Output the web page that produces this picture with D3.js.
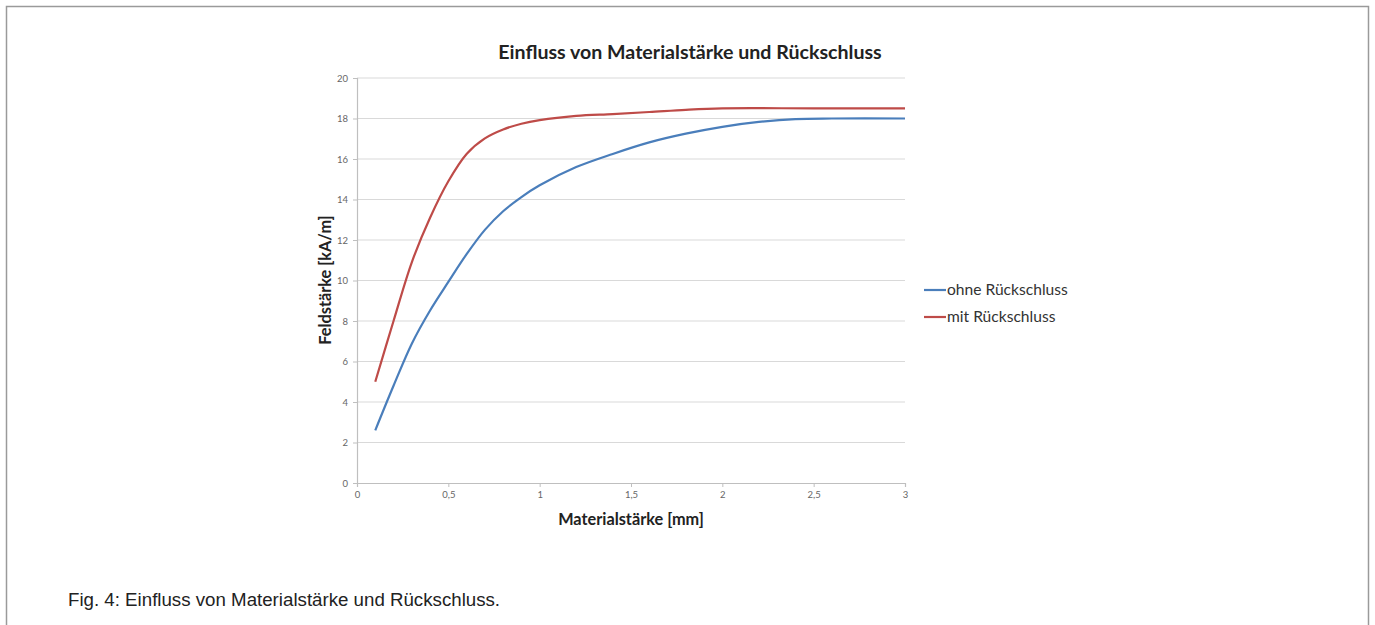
<!DOCTYPE html>
<html><head><meta charset="utf-8">
<script src="https://cdn.jsdelivr.net/npm/d3@7"></script>
<style>body{margin:0;background:#fff}svg{display:block}</style>
</head><body>
<script>
const title = "Einfluss von Materialstärke und Rückschluss";
const xLabel = "Materialstärke [mm]";
const yLabel = "Feldstärke [kA/m]";
const caption = "Fig. 4: Einfluss von Materialstärke und Rückschluss.";
const seriesNames = ["ohne Rückschluss", "mit Rückschluss"];
const seriesColors = ["#4a7ebb", "#be4b48"];
const xTicks = [0, 0.5, 1, 1.5, 2, 2.5, 3];
const yTicks = [0, 2, 4, 6, 8, 10, 12, 14, 16, 18, 20];
const ohneX = [0.1, 0.2, 0.3, 0.4, 0.5, 0.6, 0.7, 0.8, 0.9, 1.0, 1.2, 1.4, 1.6, 1.8, 2.0, 2.2, 2.4, 2.6, 3.0];
const ohneY = [2.6, 4.8, 6.88, 8.52, 9.93, 11.3, 12.5, 13.42, 14.12, 14.7, 15.6, 16.25, 16.82, 17.25, 17.59, 17.83, 17.97, 18.0, 18.0];
const mitX = [0.1, 0.2, 0.3, 0.4, 0.5, 0.6, 0.7, 0.8, 0.9, 1.0, 1.2, 1.4, 1.6, 1.8, 2.0, 2.5, 3.0];
const mitY = [5.0, 8.0, 10.9, 13.1, 14.9, 16.25, 17.02, 17.46, 17.74, 17.92, 18.13, 18.22, 18.32, 18.43, 18.5, 18.5, 18.5];

const W = 1375, H = 625;
const svg = d3.select("body").append("svg").attr("width", W).attr("height", H);
svg.append("rect").attr("x", 6.5).attr("y", 6.5).attr("width", 1362).attr("height", 700)
  .attr("fill", "none").attr("stroke", "#9a9a9a").attr("stroke-width", 1.5);

const x = d3.scaleLinear().domain([0, 3]).range([357, 905]);
const y = d3.scaleLinear().domain([0, 20]).range([483, 78]);
const tickFont = "Lato, 'Open Sans', sans-serif";

// gridlines
svg.append("g").selectAll("line").data(yTicks.filter(d => d > 0)).join("line")
  .attr("x1", x(0)).attr("x2", x(3)).attr("y1", d => y(d)).attr("y2", d => y(d))
  .attr("stroke", "#d9d9d9").attr("stroke-width", 1.2);

const yAxis = svg.append("g").attr("transform", `translate(${x(0)},0)`)
  .call(d3.axisLeft(y).tickValues(yTicks).tickSize(4).tickPadding(5).tickFormat(d3.format("d")));
const xAxis = svg.append("g").attr("transform", `translate(0,${y(0)})`)
  .call(d3.axisBottom(x).tickValues(xTicks).tickSize(4).tickPadding(4)
    .tickFormat(d => String(d).replace(".", ",")));
[yAxis, xAxis].forEach(g => {
  g.select(".domain").attr("stroke", "#bfbfbf").attr("stroke-width", 1.2);
  g.selectAll(".tick line").attr("stroke", "#bfbfbf");
  g.selectAll("text").attr("fill", "#666").style("font-family", tickFont).style("font-size", "9.5px");
});

const line = d3.line().x(d => x(d[0])).y(d => y(d[1])).curve(d3.curveCatmullRom.alpha(0.5));
const series = [d3.zip(ohneX, ohneY), d3.zip(mitX, mitY)];
svg.append("g").selectAll("path").data(series).join("path")
  .attr("d", line).attr("fill", "none")
  .attr("stroke", (d, i) => seriesColors[i]).attr("stroke-width", 2.2);

svg.append("text").attr("x", 690).attr("y", 59).attr("text-anchor", "middle")
  .style("font-family", tickFont).style("font-weight", "bold").style("font-size", "19.6px")
  .attr("fill", "#222").text(title);
svg.append("text").attr("x", 631).attr("y", 525).attr("text-anchor", "middle")
  .style("font-family", tickFont).style("font-weight", "bold").style("font-size", "16.3px")
  .attr("fill", "#222").text(xLabel);
svg.append("text").attr("transform", "translate(331,280) rotate(-90)").attr("text-anchor", "middle")
  .style("font-family", tickFont).style("font-weight", "bold").style("font-size", "16.3px")
  .attr("fill", "#222").text(yLabel);

const leg = svg.append("g").selectAll("g").data(seriesNames).join("g")
  .attr("transform", (d, i) => `translate(924,${290 + i * 27})`);
leg.append("line").attr("x1", 0).attr("x2", 22).attr("y1", 0).attr("y2", 0)
  .attr("stroke", (d, i) => seriesColors[i]).attr("stroke-width", 2.2);
leg.append("text").attr("x", 23).attr("y", 5).text(d => d)
  .style("font-family", tickFont).style("font-size", "15.6px").attr("fill", "#333");

svg.append("text").attr("x", 68).attr("y", 606).text(caption)
  .style("font-family", "'Liberation Sans', Arial, sans-serif").style("font-size", "18.7px").attr("fill", "#222");
</script>
</body></html>
